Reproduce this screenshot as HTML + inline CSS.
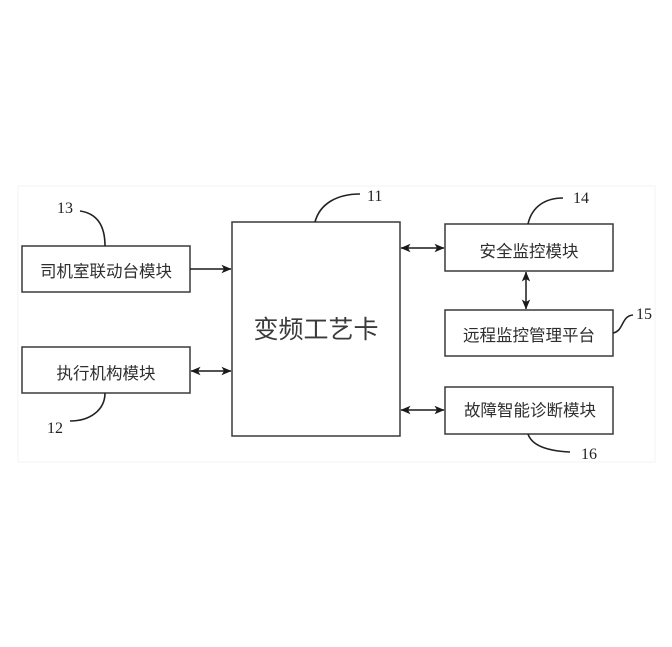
<!DOCTYPE html>
<html>
<head>
<meta charset="utf-8">
<style>
html,body{margin:0;padding:0;background:#fff;}
svg{display:block;}
.cn{font-family:"Liberation Sans","Noto Sans CJK SC",sans-serif;fill:#2e2e2e;}
.num{font-family:"Liberation Serif",serif;fill:#222;font-size:16px;}
</style>
</head>
<body>
<svg width="672" height="647" viewBox="0 0 672 647" xmlns="http://www.w3.org/2000/svg">
<defs>
<marker id="ah" viewBox="0 0 10 10" refX="9.5" refY="5" markerWidth="10" markerHeight="10" markerUnits="userSpaceOnUse" orient="auto-start-reverse">
<path d="M0,0.8 L10,5 L0,9.2 L2.5,5 Z" fill="#1a1a1a"/>
</marker>
</defs>
<rect x="18" y="186" width="637" height="276" fill="none" stroke="#f3f3f3" stroke-width="1"/>

<g fill="#fff" stroke="#3a3a3a" stroke-width="1.5">
<rect x="22" y="246" width="168" height="46"/>
<rect x="22" y="347" width="168" height="46"/>
<rect x="232" y="222" width="168" height="214"/>
<rect x="445" y="224" width="168" height="47"/>
<rect x="445" y="310" width="168" height="46"/>
<rect x="445" y="387" width="168" height="47"/>
</g>

<g class="cn" font-size="16.5" text-anchor="middle">
<text x="106" y="277">司机室联动台模块</text>
<text x="106" y="379">执行机构模块</text>
<text x="529" y="257">安全监控模块</text>
<text x="529" y="341">远程监控管理平台</text>
<text x="530" y="416">故障智能诊断模块</text>
</g>
<text class="cn" x="316" y="338" font-size="25" text-anchor="middle" style="fill:#3a3a3a">变频工艺卡</text>

<g stroke="#1a1a1a" stroke-width="1.5" fill="none">
<line x1="190" y1="269" x2="231" y2="269" marker-end="url(#ah)"/>
<line x1="191" y1="371" x2="231" y2="371" marker-start="url(#ah)" marker-end="url(#ah)"/>
<line x1="401" y1="248" x2="444" y2="248" marker-start="url(#ah)" marker-end="url(#ah)"/>
<line x1="401" y1="410" x2="444" y2="410" marker-start="url(#ah)" marker-end="url(#ah)"/>
<line x1="526" y1="272" x2="526" y2="309" marker-start="url(#ah)" marker-end="url(#ah)"/>
</g>

<g stroke="#222" stroke-width="1.6" fill="none">
<path d="M80,211 C94,213 105,222 105,246"/>
<path d="M105,393 C105,410 90,421 70,421"/>
<path d="M315,222 C320,203 338,194 360,194"/>
<path d="M528,224 C532,206 546,198 563,198"/>
<path d="M613,333 C624,331 621,316 633,315"/>
<path d="M528,434 C532,446 548,451 570,452"/>
</g>

<g class="num">
<text x="57" y="213">13</text>
<text x="47" y="433">12</text>
<text x="367" y="201">11</text>
<text x="573" y="203">14</text>
<text x="636" y="319">15</text>
<text x="581" y="459">16</text>
</g>
</svg>
</body>
</html>
